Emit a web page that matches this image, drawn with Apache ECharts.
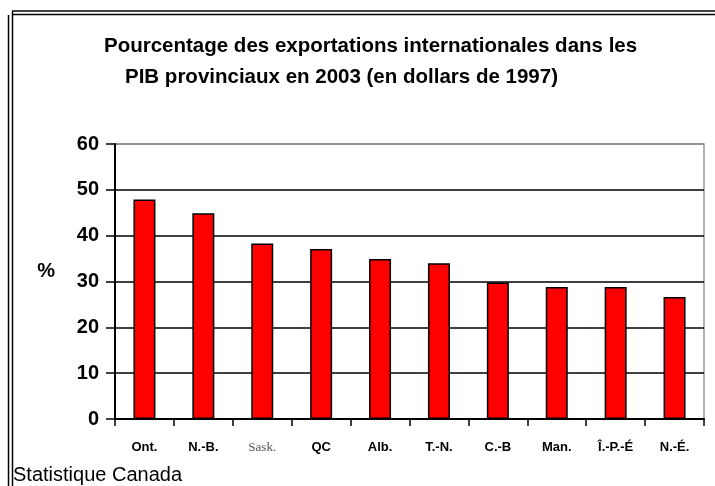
<!DOCTYPE html>
<html lang="fr">

<head>
    <meta charset="UTF-8">
    <title>Exportations internationales / PIB provinciaux</title>
    <script src="https://cdn.jsdelivr.net/npm/echarts@6/dist/echarts.min.js"></script>
    <style>
        html, body {
            margin: 0;
            padding: 0;
            background: #fff;
        }

        #chart {
            width: 715px;
            height: 486px;
        }
    </style>
</head>

<body>
    <div id="chart"></div>

    <script>
        const titleLine1 = 'Pourcentage des exportations internationales dans les';
        const titleLine2 = 'PIB provinciaux en 2003 (en dollars de 1997)';
        const source = 'Statistique Canada';

        const provinces = ['Ont.', 'N.-B.', 'Sask.', 'QC', 'Alb.', 'T.-N.', 'C.-B', 'Man.', 'Î.-P.-É', 'N.-É.'];
        const shares = [47.9, 44.9, 38.3, 37.1, 34.9, 34.0, 29.8, 28.8, 28.8, 26.6];

        const font = "'Liberation Sans', Arial, sans-serif";

        const chart = echarts.init(document.getElementById('chart'));

        const option = {
            animation: false,
            backgroundColor: '#fff',
            title: [
                {
                    text: titleLine1,
                    left: 104,
                    top: 36,
                    padding: 0,
                    textStyle: { fontFamily: font, fontSize: 20.5, fontWeight: 'bold', color: '#000' }
                },
                {
                    text: titleLine2,
                    left: 125,
                    top: 67,
                    padding: 0,
                    textStyle: { fontFamily: font, fontSize: 20.5, fontWeight: 'bold', color: '#000' }
                },
                {
                    text: source,
                    left: 13,
                    top: 465,
                    padding: 0,
                    textStyle: { fontFamily: font, fontSize: 20, fontWeight: 'normal', color: '#000' }
                }
            ],
            grid: {
                left: 115,
                right: 11,
                top: 144,
                bottom: 67,
                show: true,
                borderColor: '#999',
                borderWidth: 1.5
            },
            xAxis: {
                type: 'category',
                data: provinces,
                axisLine: { lineStyle: { color: '#000', width: 2 } },
                axisTick: { show: true, interval: 0, length: 7, lineStyle: { color: '#000', width: 1.5 } },
                axisLabel: {
                    interval: 0,
                    margin: 22,
                    fontFamily: font,
                    fontSize: 13,
                    fontWeight: 'bold',
                    color: '#000',
                    formatter: v => v === 'Sask.' ? '{s|' + v + '}' : v,
                    rich: {
                        s: { fontFamily: "'Liberation Serif', 'Times New Roman', serif", fontSize: 13, fontWeight: 'normal', color: '#555' }
                    }
                }
            },
            yAxis: {
                type: 'value',
                min: 0,
                max: 60,
                interval: 10,
                name: '%',
                nameLocation: 'middle',
                nameRotate: 0,
                nameGap: 60,
                nameTextStyle: { fontFamily: font, fontSize: 20, fontWeight: 'bold', color: '#000', verticalAlign: 'bottom' },
                axisLine: { show: true, lineStyle: { color: '#000', width: 2 } },
                axisTick: { show: true, length: 9, lineStyle: { color: '#000', width: 1.5 } },
                axisLabel: { margin: 16, fontFamily: font, fontSize: 20, fontWeight: 'bold', color: '#000' },
                splitLine: {
                    show: true,
                    lineStyle: { color: ['#000', '#000', '#000', '#000', '#000', '#000', '#888'], width: 1.5 }
                }
            },
            series: [{
                type: 'bar',
                data: shares,
                barWidth: 22,
                itemStyle: { color: '#ff0000', borderColor: '#000', borderWidth: 1.5 }
            }],
            graphic: [
                // double cadre en haut et à gauche
                { type: 'line', shape: { x1: 12, y1: 11, x2: 715, y2: 11 }, style: { stroke: '#000', lineWidth: 1.5 } },
                { type: 'line', shape: { x1: 13, y1: 14.5, x2: 715, y2: 14.5 }, style: { stroke: '#000', lineWidth: 1.5 } },
                { type: 'line', shape: { x1: 8.5, y1: 15, x2: 8.5, y2: 486 }, style: { stroke: '#000', lineWidth: 1.5 } },
                { type: 'line', shape: { x1: 12.5, y1: 11, x2: 12.5, y2: 486 }, style: { stroke: '#000', lineWidth: 1.5 } }
            ]
        };

        chart.setOption(option);
    </script>
</body>

</html>
